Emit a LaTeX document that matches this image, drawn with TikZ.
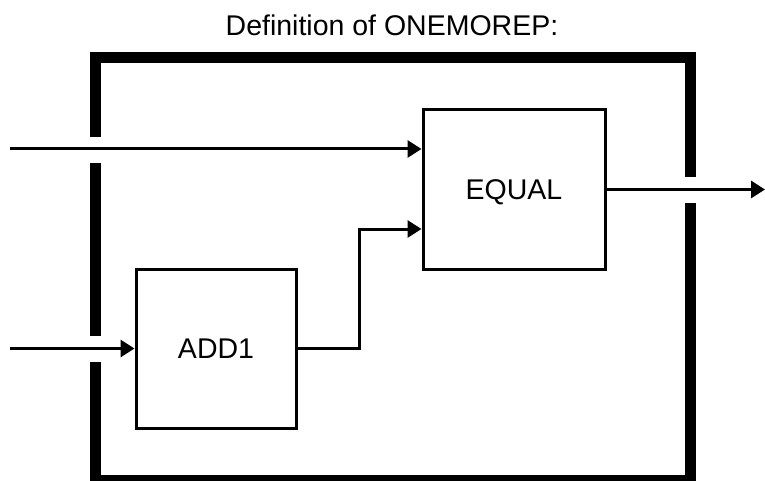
\documentclass[tikz,border=0pt]{standalone}
\usepackage{fontspec}
\setmainfont{Liberation Sans}
\usetikzlibrary{arrows.meta}
\begin{document}
\begin{tikzpicture}[x=1pt,y=-1pt,
  lbl/.style={font=\fontsize{28.5}{34}\selectfont},
  blockbox/.style={draw,line width=3pt,inner sep=0pt,lbl,text height=20.4pt,text depth=0pt},
  conn/.style={line width=3pt,-{Triangle[length=14pt,width=17pt]}},
  frame/.style={line width=11pt,line join=miter}]
\useasboundingbox (0,0) rectangle (765,481);
\clip (0,0) rectangle (765,481);
% title
\node[lbl,anchor=base] (title) at (392,36) {Definition of ONEMOREP:};
% frame with gaps
\draw[frame] (95.5,137) -- (95.5,57.5) -- (690.5,57.5) -- (690.5,177);
\draw[frame] (95.5,163) -- (95.5,336);
\draw[frame] (95.5,362) -- (95.5,480.5) -- (690.5,480.5) -- (690.5,203);
% blocks
\node[blockbox,minimum width=182pt,minimum height=159pt] (eq) at (514,189.5) {EQUAL};
\node[blockbox,minimum width=160pt,minimum height=159pt] (add) at (216,348.5) {ADD1};
% connectors
\coordinate (in1) at (10,149);
\coordinate (in2) at (10,348.5);
\coordinate (j) at (359,229);
\coordinate (out) at (765,189.5);
\draw[conn] (in1) -- (in1 -| eq.west);
\draw[conn] (in2) -- (add.west);
\draw[conn] (add.east) -| (j) -- (j -| eq.west);
\draw[conn] (eq.east) -- (out);
\end{tikzpicture}
\end{document}
